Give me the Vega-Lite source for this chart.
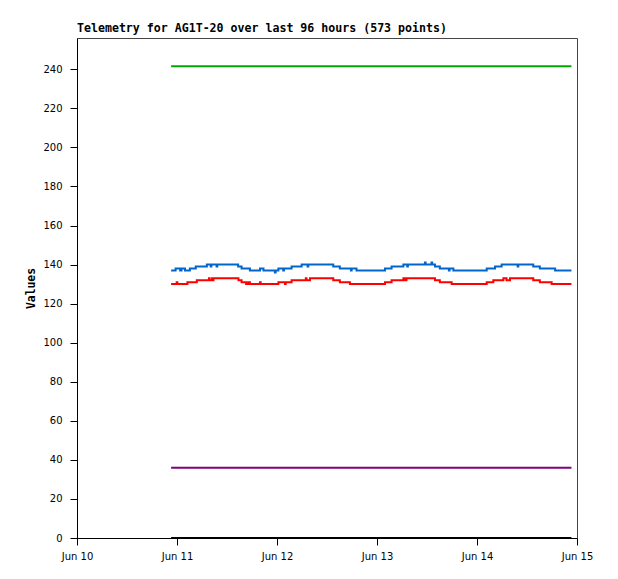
{
  "$schema": "https://vega.github.io/schema/vega-lite/v6.json",
  "width": 500,
  "height": 500,
  "autosize": {"type": "none"},
  "padding": {"left": 77, "top": 38, "right": 41, "bottom": 41},
  "background": "white",
  "title": {
    "text": "Telemetry for AG1T-20 over last 96 hours (573 points)",
    "anchor": "start",
    "frame": "group",
    "font": "DejaVu Sans Mono",
    "fontSize": 11.6,
    "fontWeight": "bold",
    "color": "black",
    "offset": 3
  },
  "config": {
    "view": {"stroke": "#444444", "strokeWidth": 1},
    "axis": {
      "grid": false,
      "domainColor": "black",
      "tickColor": "black",
      "labelColor": "black",
      "labelFont": "DejaVu Sans",
      "labelFontSize": 10,
      "tickSize": 7
    }
  },
  "data": {
    "values": [
      {"s": "green", "t": "2024-06-10T22:35", "v": 241.5},
      {"s": "green", "t": "2024-06-14T22:40", "v": 241.5},
      {"s": "purple", "t": "2024-06-10T22:35", "v": 36},
      {"s": "purple", "t": "2024-06-14T22:40", "v": 36},
      {"s": "black", "t": "2024-06-10T22:35", "v": 0},
      {"s": "black", "t": "2024-06-14T22:40", "v": 0},
      {"s": "blue", "t": "2024-06-10T22:35", "v": 137},
      {"s": "blue", "t": "2024-06-10T23:40", "v": 138},
      {"s": "blue", "t": "2024-06-11T00:45", "v": 137},
      {"s": "blue", "t": "2024-06-11T01:05", "v": 138},
      {"s": "blue", "t": "2024-06-11T01:55", "v": 137},
      {"s": "blue", "t": "2024-06-11T03:05", "v": 138},
      {"s": "blue", "t": "2024-06-11T04:30", "v": 139},
      {"s": "blue", "t": "2024-06-11T07:10", "v": 140},
      {"s": "blue", "t": "2024-06-11T08:05", "v": 139},
      {"s": "blue", "t": "2024-06-11T08:15", "v": 140},
      {"s": "blue", "t": "2024-06-11T09:30", "v": 139},
      {"s": "blue", "t": "2024-06-11T09:40", "v": 140},
      {"s": "blue", "t": "2024-06-11T14:40", "v": 139},
      {"s": "blue", "t": "2024-06-11T15:30", "v": 138},
      {"s": "blue", "t": "2024-06-11T17:30", "v": 137},
      {"s": "blue", "t": "2024-06-11T19:55", "v": 138},
      {"s": "blue", "t": "2024-06-11T20:45", "v": 137},
      {"s": "blue", "t": "2024-06-11T23:30", "v": 136},
      {"s": "blue", "t": "2024-06-11T23:40", "v": 137},
      {"s": "blue", "t": "2024-06-12T00:20", "v": 138},
      {"s": "blue", "t": "2024-06-12T01:30", "v": 137},
      {"s": "blue", "t": "2024-06-12T01:40", "v": 138},
      {"s": "blue", "t": "2024-06-12T03:30", "v": 139},
      {"s": "blue", "t": "2024-06-12T05:55", "v": 140},
      {"s": "blue", "t": "2024-06-12T07:20", "v": 139},
      {"s": "blue", "t": "2024-06-12T07:30", "v": 140},
      {"s": "blue", "t": "2024-06-12T13:30", "v": 139},
      {"s": "blue", "t": "2024-06-12T15:05", "v": 138},
      {"s": "blue", "t": "2024-06-12T17:45", "v": 137},
      {"s": "blue", "t": "2024-06-12T17:55", "v": 138},
      {"s": "blue", "t": "2024-06-12T19:05", "v": 137},
      {"s": "blue", "t": "2024-06-13T01:55", "v": 138},
      {"s": "blue", "t": "2024-06-13T03:30", "v": 139},
      {"s": "blue", "t": "2024-06-13T06:20", "v": 140},
      {"s": "blue", "t": "2024-06-13T07:15", "v": 139},
      {"s": "blue", "t": "2024-06-13T07:25", "v": 140},
      {"s": "blue", "t": "2024-06-13T11:30", "v": 141},
      {"s": "blue", "t": "2024-06-13T11:40", "v": 140},
      {"s": "blue", "t": "2024-06-13T13:05", "v": 141},
      {"s": "blue", "t": "2024-06-13T13:15", "v": 140},
      {"s": "blue", "t": "2024-06-13T13:55", "v": 139},
      {"s": "blue", "t": "2024-06-13T15:05", "v": 138},
      {"s": "blue", "t": "2024-06-13T17:15", "v": 137},
      {"s": "blue", "t": "2024-06-13T17:25", "v": 138},
      {"s": "blue", "t": "2024-06-13T18:20", "v": 137},
      {"s": "blue", "t": "2024-06-14T02:20", "v": 138},
      {"s": "blue", "t": "2024-06-14T04:20", "v": 139},
      {"s": "blue", "t": "2024-06-14T05:55", "v": 140},
      {"s": "blue", "t": "2024-06-14T09:45", "v": 139},
      {"s": "blue", "t": "2024-06-14T09:55", "v": 140},
      {"s": "blue", "t": "2024-06-14T13:30", "v": 139},
      {"s": "blue", "t": "2024-06-14T15:05", "v": 138},
      {"s": "blue", "t": "2024-06-14T18:45", "v": 137},
      {"s": "blue", "t": "2024-06-14T22:40", "v": 137},
      {"s": "red", "t": "2024-06-10T22:35", "v": 130},
      {"s": "red", "t": "2024-06-10T23:55", "v": 131},
      {"s": "red", "t": "2024-06-11T00:05", "v": 130},
      {"s": "red", "t": "2024-06-11T02:30", "v": 131},
      {"s": "red", "t": "2024-06-11T04:45", "v": 132},
      {"s": "red", "t": "2024-06-11T07:40", "v": 133},
      {"s": "red", "t": "2024-06-11T07:50", "v": 132},
      {"s": "red", "t": "2024-06-11T08:25", "v": 133},
      {"s": "red", "t": "2024-06-11T08:35", "v": 132},
      {"s": "red", "t": "2024-06-11T08:45", "v": 133},
      {"s": "red", "t": "2024-06-11T14:45", "v": 132},
      {"s": "red", "t": "2024-06-11T15:30", "v": 131},
      {"s": "red", "t": "2024-06-11T16:35", "v": 130},
      {"s": "red", "t": "2024-06-11T17:05", "v": 131},
      {"s": "red", "t": "2024-06-11T17:30", "v": 130},
      {"s": "red", "t": "2024-06-11T19:55", "v": 131},
      {"s": "red", "t": "2024-06-11T20:05", "v": 130},
      {"s": "red", "t": "2024-06-12T00:20", "v": 131},
      {"s": "red", "t": "2024-06-12T01:55", "v": 130},
      {"s": "red", "t": "2024-06-12T02:05", "v": 131},
      {"s": "red", "t": "2024-06-12T03:30", "v": 132},
      {"s": "red", "t": "2024-06-12T06:55", "v": 133},
      {"s": "red", "t": "2024-06-12T07:05", "v": 132},
      {"s": "red", "t": "2024-06-12T07:55", "v": 133},
      {"s": "red", "t": "2024-06-12T13:30", "v": 132},
      {"s": "red", "t": "2024-06-12T15:05", "v": 131},
      {"s": "red", "t": "2024-06-12T17:30", "v": 130},
      {"s": "red", "t": "2024-06-13T01:55", "v": 131},
      {"s": "red", "t": "2024-06-13T03:30", "v": 132},
      {"s": "red", "t": "2024-06-13T06:20", "v": 133},
      {"s": "red", "t": "2024-06-13T06:40", "v": 132},
      {"s": "red", "t": "2024-06-13T07:05", "v": 133},
      {"s": "red", "t": "2024-06-13T13:55", "v": 132},
      {"s": "red", "t": "2024-06-13T15:05", "v": 131},
      {"s": "red", "t": "2024-06-13T17:55", "v": 130},
      {"s": "red", "t": "2024-06-14T02:20", "v": 131},
      {"s": "red", "t": "2024-06-14T03:55", "v": 132},
      {"s": "red", "t": "2024-06-14T06:20", "v": 133},
      {"s": "red", "t": "2024-06-14T07:05", "v": 132},
      {"s": "red", "t": "2024-06-14T07:55", "v": 133},
      {"s": "red", "t": "2024-06-14T13:30", "v": 132},
      {"s": "red", "t": "2024-06-14T15:05", "v": 131},
      {"s": "red", "t": "2024-06-14T17:55", "v": 130},
      {"s": "red", "t": "2024-06-14T22:40", "v": 130}
    ]
  },
  "mark": {"type": "line", "interpolate": "step-after", "strokeWidth": 2},
  "encoding": {
    "x": {
      "field": "t",
      "type": "temporal",
      "scale": {
        "domain": [
          {"year": 2024, "month": 6, "date": 10},
          {"year": 2024, "month": 6, "date": 15}
        ]
      },
      "axis": {
        "title": null,
        "format": "%b %d",
        "tickCount": {"interval": "day", "step": 1},
        "labelPadding": 6,
        "labelFlush": false
      }
    },
    "y": {
      "field": "v",
      "type": "quantitative",
      "scale": {"domain": [0, 256], "nice": false},
      "axis": {
        "title": "Values",
        "titleFont": "DejaVu Sans Mono",
        "titleFontSize": 11.4,
        "titleFontWeight": "bold",
        "titleColor": "black",
        "titlePadding": 6,
        "values": [0, 20, 40, 60, 80, 100, 120, 140, 160, 180, 200, 220, 240],
        "labelPadding": 8
      }
    },
    "color": {
      "field": "s",
      "type": "nominal",
      "scale": {
        "domain": ["black", "purple", "red", "blue", "green"],
        "range": ["#000000", "#800080", "#ff0000", "#0066cc", "#00aa00"]
      },
      "legend": null
    }
  }
}
